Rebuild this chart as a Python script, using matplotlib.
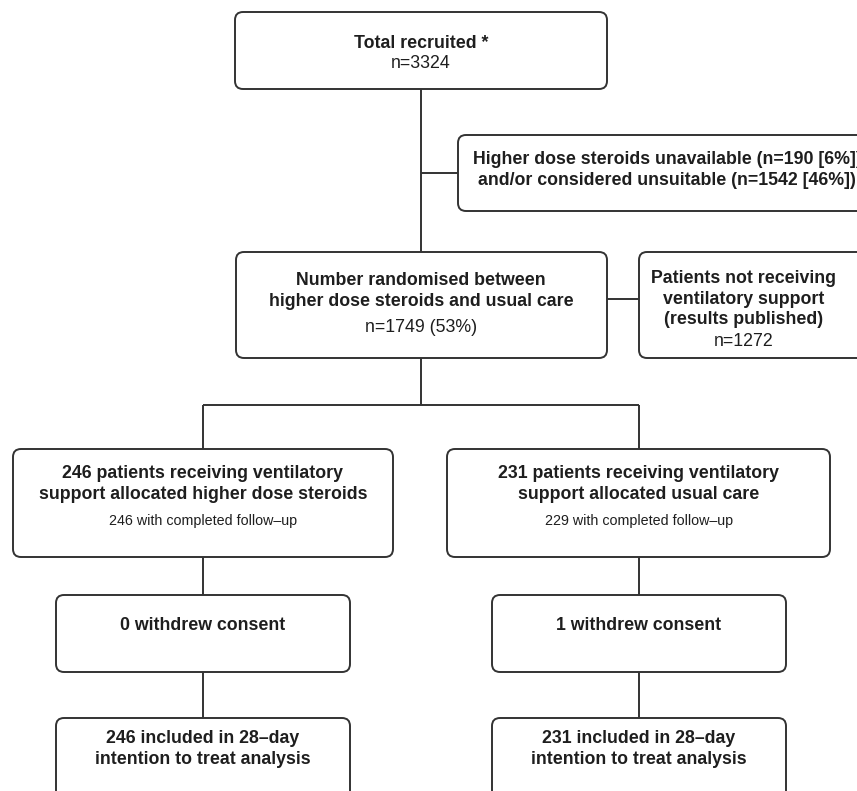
import matplotlib.pyplot as plt
from matplotlib.patches import FancyBboxPatch

# =========================
# DATA
# =========================

total_title = "Total recruited *"
total_n = "n=3324"

excluded_text = "Higher dose steroids unavailable (n=190 [6%])\nand/or considered unsuitable (n=1542 [46%])"

randomised_title = "Number randomised between\nhigher dose steroids and usual care"
randomised_n = "n=1749 (53%)"

not_ventilated_title = "Patients not receiving\nventilatory support\n(results published)"
not_ventilated_n = "n=1272"

arm_titles = [
    "246 patients receiving ventilatory\nsupport allocated higher dose steroids",
    "231 patients receiving ventilatory\nsupport allocated usual care",
]
arm_followup = ["246 with completed follow\u2013up", "229 with completed follow\u2013up"]
arm_withdrew = ["0 withdrew consent", "1 withdrew consent"]
arm_itt = [
    "246 included in 28\u2013day\nintention to treat analysis",
    "231 included in 28\u2013day\nintention to treat analysis",
]

# =========================
# STYLE
# =========================

plt.rcParams['font.family'] = ['Liberation Sans', 'DejaVu Sans']

line_color = "#333333"
text_color = "#1e1e1e"
lw = 1.4
big = 12.8
small = 10.3

# =========================
# FIGURE (pixel coordinates)
# =========================

fig = plt.figure(figsize=(8.57, 7.91), dpi=100)
ax = fig.add_axes([0, 0, 1, 1])
ax.set_xlim(0, 857)
ax.set_ylim(791, 0)
ax.axis("off")


def box(x0, y0, x1, y1):
    ax.add_patch(FancyBboxPatch(
        (x0, y0), x1 - x0, y1 - y0,
        boxstyle="round,pad=0,rounding_size=8",
        fc="white", ec=line_color, lw=lw, zorder=2
    ))


def line(xs, ys):
    ax.plot(xs, ys, color=line_color, lw=lw, zorder=1, solid_capstyle="butt")


def label(x, y, s, bold=True, size=big):
    ax.text(x, y, s, ha="center", va="center", fontsize=size,
            fontweight="bold" if bold else "normal", color=text_color,
            linespacing=1.3, zorder=3)


# =========================
# CONNECTORS
# =========================

line([421, 421], [89, 252])
line([421, 458], [173, 173])
line([607, 639], [299, 299])
line([421, 421], [358, 405])
line([203, 639], [405, 405])

arm_x = [203, 639]
for cx in arm_x:
    line([cx, cx], [405, 449])
    line([cx, cx], [557, 595])
    line([cx, cx], [672, 718])

# =========================
# BOXES
# =========================

box(235, 12, 607, 89)
label(421, 43, total_title)
label(421, 63, total_n, bold=False)

box(458, 135, 880, 211)
label(667, 170, excluded_text)

box(236, 252, 607, 358)
label(421, 291, randomised_title)
label(421, 327, randomised_n, bold=False)

box(639, 252, 880, 358)
label(744, 299, not_ventilated_title)
label(744, 341, not_ventilated_n, bold=False)

arm_boxes = [(13, 393), (447, 830)]
inner_boxes = [(56, 350), (492, 786)]

for i in range(2):
    cx = arm_x[i]
    bx0, bx1 = arm_boxes[i]
    box(bx0, 449, bx1, 557)
    label(cx, 484, arm_titles[i])
    label(cx, 521, arm_followup[i], bold=False, size=small)

    ix0, ix1 = inner_boxes[i]
    box(ix0, 595, ix1, 672)
    label(cx, 625, arm_withdrew[i])

    box(ix0, 718, ix1, 830)
    label(cx, 749, arm_itt[i])

fig.savefig("out.png", dpi=100)
